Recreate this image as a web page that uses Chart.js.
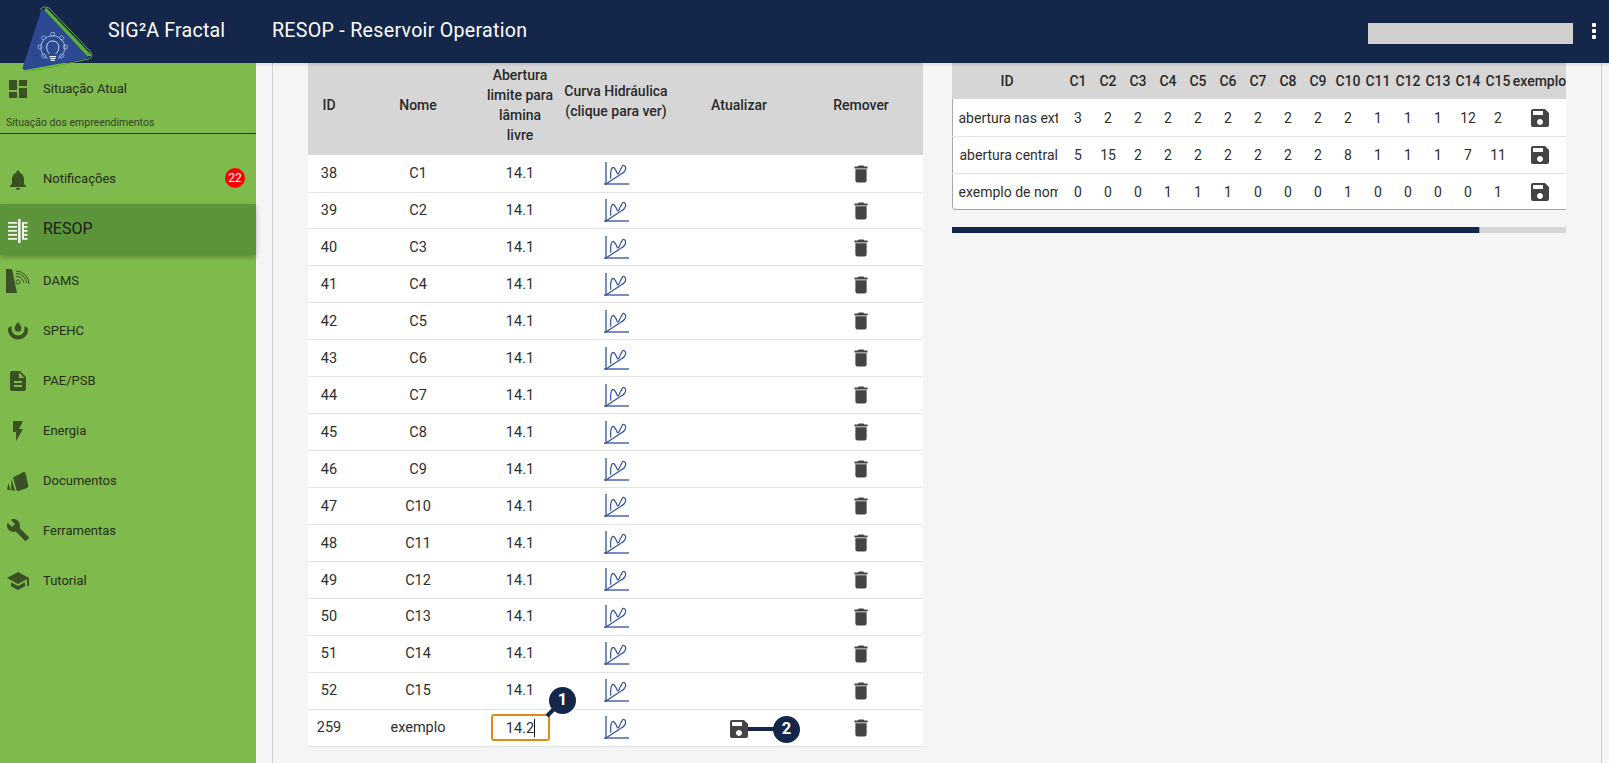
<!DOCTYPE html>
<html lang="pt">
<head>
<meta charset="utf-8">
<title>RESOP - Reservoir Operation</title>
<script src="https://cdn.jsdelivr.net/npm/chart.js@4/dist/chart.umd.min.js"></script>
<style>
html,body{margin:0;padding:0;width:1609px;height:763px;overflow:hidden;background:#f5f5f5;font-family:Roboto,sans-serif;color:#2e2e2e}
#stage{position:relative;width:1609px;height:763px;overflow:hidden}
.box{position:absolute}
.t{position:absolute;white-space:nowrap;line-height:1}
.c{transform:translate(-50%,-50%);text-align:center}
.l{transform:translateY(-50%)}
.head{font-weight:500;color:#2a2a2a}
svg.i{position:absolute;transform:translate(-50%,-50%)}
canvas{display:block}
.cv{position:absolute}
</style>
</head>
<body>
<div id="stage"></div>
<script>
// ---- content ----
const rowIds = ["38","39","40","41","42","43","44","45","46","47","48","49","50","51","52","259"];
const rowNames = ["C1","C2","C3","C4","C5","C6","C7","C8","C9","C10","C11","C12","C13","C14","C15","exemplo"];
const rowLimits = ["14.1","14.1","14.1","14.1","14.1","14.1","14.1","14.1","14.1","14.1","14.1","14.1","14.1","14.1","14.1","14.2"];
const matrixHeaders = ["C1","C2","C3","C4","C5","C6","C7","C8","C9","C10","C11","C12","C13","C14","C15"];
const matrixLabels = ["abertura nas ext","abertura central","exemplo de nom"];
const aberturaExt = [3,2,2,2,2,2,2,2,2,2,1,1,1,12,2];
const aberturaCentral = [5,15,2,2,2,2,2,2,2,8,1,1,1,7,11];
const exemploNome = [0,0,0,1,1,1,0,0,0,1,0,0,0,0,1];
// icon curve series
const curveX = [8.7,9,11.3,14,16,18.7,21.3,23.7,22,18];
const curveY = [9.3,17.3,20.7,17.3,14,18.7,22.7,20,16,13.3];
const diagonalX = [4,18];
const diagonalY = [4,13.3];
const axisVX = [4,4];
const axisVY = [3,26];
const axisHX = [2,27];
const axisHY = [4,4];
// scroll bar share
const scrollShown = [527];
const scrollHidden = [87];

// ---- helpers ----
const stage = document.getElementById('stage');
function box(x,y,w,h,css){const d=document.createElement('div');d.className='box';d.style.cssText=`left:${x}px;top:${y}px;width:${w}px;height:${h}px;${css||''}`;stage.appendChild(d);return d;}
function text(s,x,y,size,opt){opt=opt||{};const d=document.createElement('div');d.className='t '+(opt.left?'l':'c')+(opt.head?' head':'');d.textContent=s;
 d.style.cssText=`left:${x}px;top:${y}px;font-size:${size}px;${opt.css||''}`;(opt.parent||stage).appendChild(d);return d;}
function icon(path,x,y,size,color,vb){const n='http://www.w3.org/2000/svg';const s=document.createElementNS(n,'svg');s.setAttribute('class','i');s.setAttribute('viewBox',vb||'0 0 24 24');
 s.setAttribute('width',size);s.setAttribute('height',size);s.style.left=x+'px';s.style.top=y+'px';s.innerHTML=`<path d="${path}" fill="${color}"/>`;stage.appendChild(s);return s;}

const P = {
 dash:"M3 13h8V3H3v10zm0 8h8v-6H3v6zm10 0h8V11h-8v10zm0-18v6h8V3h-8z",
 bell:"M12 22c1.1 0 2-.9 2-2h-4c0 1.1.89 2 2 2zm6-6v-5c0-3.07-1.64-5.64-4.5-6.32V4c0-.83-.67-1.5-1.5-1.5s-1.5.67-1.5 1.5v.68C7.63 5.36 6 7.92 6 11v5l-2 2v1h16v-1l-2-2z",
 trash:"M6 19c0 1.1.9 2 2 2h8c1.1 0 2-.9 2-2V7H6v12zM19 4h-3.5l-1-1h-5l-1 1H5v2h14V4z",
 save:"M17 3H5c-1.11 0-2 .9-2 2v14c0 1.1.89 2 2 2h14c1.1 0 2-.9 2-2V7l-4-4zm-5 16c-1.66 0-3-1.34-3-3s1.34-3 3-3 3 1.34 3 3-1.34 3-3 3zm3-10H5V5h10v4z",
 doc:"M14 2H6c-1.1 0-1.99.9-1.99 2L4 20c0 1.1.89 2 1.99 2H18c1.1 0 2-.9 2-2V8l-6-6zm2 16H8v-2h8v2zm0-4H8v-2h8v2zm-3-5V3.5L18.5 9H13z",
 flash:"M7 2v11h3v9l7-12h-4l4-8z",
 wrench:"M22.7 19l-9.1-9.1c.9-2.3.4-5-1.5-6.9-2-2-5-2.4-7.4-1.3L9 6 6 9 1.6 4.7C.4 7.1.9 10.1 2.9 12.1c1.9 1.9 4.6 2.4 6.9 1.5l9.1 9.1c.4.4 1 .4 1.4 0l2.3-2.3c.5-.4.5-1.1.1-1.4z",
 school:"M5 13.18v4L12 21l7-3.82v-4L12 17l-7-3.82zM12 3L1 9l11 6 9-4.91V17h2V9L12 3z",
 spehc:"M12 3c2 2.6 3.4 4.4 3.4 6.2a3.4 3.4 0 0 1-6.8 0C8.6 7.4 10 5.6 12 3zM2.5 8.5l3.4-1.2C5.6 8 5.5 9 5.5 10c0 3.6 2.9 6.5 6.5 6.5s6.5-2.9 6.5-6.5c0-1 -.1-2-.4-2.7l3.4 1.2c.3.8.5 1.6.5 2.5 0 5.3-4.5 9.5-10 9.5S2 15.8 2 10.5c0-.7.2-1.4.5-2z",
 resop:"M1 3h9v1.7H1zM1 7h9v1.7H1zM1 11h9v1.7H1zM1 15h9v1.7H1zM1 19h9v1.7H1zM11 0h2.6v24H11zM15 3h5.5v1.7H15zM15 7h5.5v1.7H15zM15 11h5.5v1.7H15zM15 15h5.5v1.7H15zM15 19h5.5v1.7H15zM15 4h2v16h-2z"
};

// ---- shell ----
const NAVY="#14264a", ICON="#3a5124", NAVTXT="#1f2d14";
box(272,63,1,700,'background:#cfcfcf');
box(1601,63,1,700,'background:#cfcfcf');

// ---- left table ----
const LX=308, LW=615, HTOP=63, HBOT=155, RH=36.94;
const colId=329,colNome=418,colAb=520,colCurva=616,colAt=739,colRem=861;
box(LX,HTOP,LW,HBOT-HTOP,'background:#d6d6d6');
box(LX,HBOT,LW,RH*16,'background:#fff');
const hf=14;
text("ID",colId,105,hf,{head:1});
text("Nome",colNome,105,hf,{head:1});
["Abertura","limite para","lâmina","livre"].forEach((s,i)=>text(s,colAb,75+i*20,hf,{head:1}));
["Curva Hidráulica","(clique para ver)"].forEach((s,i)=>text(s,colCurva,90.5+i*20,hf,{head:1}));
text("Atualizar",colAt,105,hf,{head:1});
text("Remover",colRem,105,hf,{head:1});

const iconCanvases=[];
rowIds.forEach((id,i)=>{
  const top=HBOT+RH*i, cy=top+19.2;
  box(LX,Math.round(top+RH-0.4),LW,1,'background:#e3e3e3');
  text(id,colId,cy,14.5);
  text(rowNames[i],colNome,cy,14.5);
  if(i<rowIds.length-1) text(rowLimits[i],colAb,cy,14.5);
  icon(P.trash,colRem,cy-0.5,22.5,'#444');
  const cv=document.createElement('canvas');cv.width=28;cv.height=28;cv.className='cv';
  cv.style.cssText=`position:absolute;left:602px;top:${Math.round(top+5)}px;width:28px;height:28px`;
  stage.appendChild(cv);iconCanvases.push(cv);
});

// input + callouts
box(491,714,59,27,'box-sizing:border-box;border:2px solid #e08a1e;border-radius:3px;background:#fff');
text(rowLimits[15],520,728.5,14.5);
box(534,719,1,18,'background:#111');
icon(P.save,739,729,24,'#444');
box(748,727,26,4,'background:'+NAVY);
const ln=document.createElementNS('http://www.w3.org/2000/svg','svg');
ln.setAttribute('width','40');ln.setAttribute('height','40');ln.style.cssText='position:absolute;left:535px;top:690px';
ln.innerHTML=`<line x1="12" y1="26" x2="26" y2="12" stroke="${NAVY}" stroke-width="4"/>`;stage.appendChild(ln);
[[562.5,700,"1"],[786.5,729,"2"]].forEach(b=>{
  box(b[0]-13.5,b[1]-13.5,27,27,`background:${NAVY};border-radius:50%`);
  text(b[2],b[0],b[1],16.5,{css:'color:#fff;font-weight:700'});
});

// ---- right table ----
const RX=952,RW=614;
box(RX,63,RW,36,'background:#d6d6d6');
box(RX,99,RW,111,'background:#fff;box-sizing:border-box;border-left:1px solid #a8a8a8;border-bottom:1px solid #a0a0a0;border-bottom-left-radius:4px');
box(RX,136,RW,1,'background:#e3e3e3');
box(RX,173,RW,1,'background:#e3e3e3');
const colX=k=>1078+30*k;
text("ID",1007,81,14,{head:1});
matrixHeaders.forEach((h,k)=>text(h,colX(k),81,14,{head:1}));
text("exemplo",1539.5,81,14,{head:1});
[aberturaExt,aberturaCentral,exemploNome].forEach((vals,r)=>{
  const cy=[118,155,192][r];
  const clip=box(958,cy-10,100,20,'overflow:hidden');
  text(matrixLabels[r],r==1?1.5:0.5,10,14,{left:1,parent:clip});
  vals.forEach((v,k)=>text(String(v),colX(k),cy,14));
  icon(P.save,1539.5,cy,24,'#444');
});

// scroll bar drawn by chart
const sc=document.createElement('canvas');sc.style.cssText='position:absolute;left:952px;top:227px;width:614px;height:6px';
sc.width=614;sc.height=6;stage.appendChild(sc);

// ---- header & sidebar (over content) ----
box(0,63,1609,4,'background:linear-gradient(rgba(0,0,0,.10),rgba(0,0,0,0))');
box(0,0,1609,63,'background:'+NAVY);
box(0,63,256,700,'background:#7fba4c');
box(0,204,256,51,'background:#5c9439;box-shadow:0 2px 5px rgba(0,0,0,.28)');
box(0,133,256,1,'background:#1c3a22');

// logo
const logo=document.createElementNS('http://www.w3.org/2000/svg','svg');
logo.setAttribute('width','110');logo.setAttribute('height','80');logo.style.cssText='position:absolute;left:0;top:0';
let gearTeeth='';for(let a=0;a<8;a++){if(a==4)continue;gearTeeth+=`<rect x="50.7" y="32.6" width="4" height="3.4" rx=".6" fill="#2b4a92" stroke="#9fb1d8" stroke-width=".9" transform="rotate(${a*45} 52.7 47)"/>`;}
logo.innerHTML=`<path d="M40 10 Q43 5 49 8 L90 51 Q94 57 89 59 L31 71" fill="none" stroke="#5cae34" stroke-width="1"/>
<path d="M46 9 L90 55 L32 68 Z" fill="#5cae34" stroke="#5cae34" stroke-width="2" stroke-linejoin="round"/>
<path d="M43 11.5 L85.5 57 L24.5 68 Z" fill="#2b4a92" stroke="#2b4a92" stroke-width="4" stroke-linejoin="round"/>
<path d="M24 71 L60 66" stroke="#5cae34" stroke-width="1" fill="none" opacity=".6"/>
${gearTeeth}
<path d="M47.5 58.5 A12 12 0 1 1 58 58.5" fill="none" stroke="#9fb1d8" stroke-width="1"/>
<path d="M49.8 54 C45 50 45.5 41 52.7 41 C60 41 60.5 50 55.6 54" fill="none" stroke="#cdd7ec" stroke-width="1"/>
<rect x="49.5" y="56" width="6.6" height="1.2" fill="#eef2fa"/><rect x="50" y="58" width="5.6" height="1.1" fill="#eef2fa"/><rect x="50.7" y="59.8" width="4.2" height="1.1" fill="#eef2fa"/>`;
stage.appendChild(logo);

text("SIG²A Fractal",108,31,19.6,{left:1,css:'color:#fff;letter-spacing:.2px'});
text("RESOP - Reservoir Operation",272,31,19.6,{left:1,css:'color:#fff;letter-spacing:.3px'});
box(1368,23,205,21,'background:#d0d0d0');
[25,31,37].forEach(y=>box(1592,y-2,4,4,'background:#fff;border-radius:1px'));

const navItems=[["Situação Atual",88,13],["Notificações",178,13],["DAMS",279.5,13],["SPEHC",329.5,13],["PAE/PSB",379.5,13],["Energia",429.5,13],["Documentos",479.5,13],["Ferramentas",529.5,13],["Tutorial",579.5,13]];
navItems.forEach(n=>text(n[0],43,n[1],n[2],{left:1,css:'color:'+NAVTXT}));
text("RESOP",43,228.5,16,{left:1,css:'color:#14200c'});
text("Situação dos empreendimentos",6,122.5,10.5,{left:1,css:'color:#33451f'});
box(225,168,20,20,'background:#fb0007;border-radius:50%');
text("22",235,178,12,{css:'color:#fff'});
icon(P.dash,18,89,24,ICON);
icon(P.bell,18,179.5,24,ICON);
icon(P.resop,18.5,231,24,'#f1f4ec');
icon(P.spehc,18,331,24,ICON);
icon(P.doc,18,381,24,ICON);
icon(P.flash,18,431,24,ICON);
icon(P.wrench,18,530,24,ICON);
icon(P.school,18,581,24,ICON);
// page-positioned custom icons: DAMS and Documentos
const custom=document.createElementNS('http://www.w3.org/2000/svg','svg');
custom.setAttribute('width','40');custom.setAttribute('height','240');custom.style.cssText='position:absolute;left:0;top:260px';
custom.innerHTML=`<path d="M6 9H12L17 33H6Z" fill="${ICON}"/><circle cx="18" cy="22" r="2.1" fill="none" stroke="${ICON}" stroke-width="1"/>
<path d="M16 16.5a6.5 6.5 0 0 1 7.5 6M16 13.5a10 10 0 0 1 10.5 9.5M16 11a13 13 0 0 1 13 13" fill="none" stroke="${ICON}" stroke-width="1"/>
<path d="M13 217.5L23.5 212Q25 211.5 25.5 213L28.3 226Q28.5 227.5 27 228L18.5 231Q17 231.3 16.5 230Z" fill="${ICON}"/>
<path d="M11.5 218.5L15 231L11 230Z M8.5 223L10.5 230.5L7 229.5Z" fill="${ICON}"/>`;
stage.appendChild(custom);

// ---- Chart.js ----
const pts=(xs,ys)=>xs.map((x,i)=>({x,y:ys[i]}));
const LINE="#32509c";
iconCanvases.forEach(cv=>{
  new Chart(cv,{type:'line',
    data:{datasets:[
      {data:pts(axisVX,axisVY),borderColor:LINE,borderWidth:1.3,pointRadius:0},
      {data:pts(axisHX,axisHY),borderColor:LINE,borderWidth:1.3,pointRadius:0},
      {data:pts(diagonalX,diagonalY),borderColor:LINE,borderWidth:1.2,pointRadius:0},
      {data:pts(curveX,curveY),borderColor:LINE,borderWidth:1.2,pointRadius:0,tension:.4}
    ]},
    options:{responsive:false,animation:false,events:[],devicePixelRatio:1,
      layout:{padding:0},
      plugins:{legend:{display:false},tooltip:{enabled:false},title:{display:false}},
      scales:{x:{type:'linear',min:0,max:28,display:false},y:{type:'linear',min:0,max:28,display:false}}}
  });
});
new Chart(sc,{type:'bar',
  data:{labels:[''],datasets:[
    {data:scrollShown,backgroundColor:NAVY,borderRadius:3,borderSkipped:false,barPercentage:1,categoryPercentage:1,stack:'s'},
    {data:scrollHidden,backgroundColor:'#d6d6d6',barPercentage:1,categoryPercentage:1,stack:'s'}
  ]},
  options:{indexAxis:'y',responsive:false,animation:false,events:[],devicePixelRatio:1,layout:{padding:0},
    plugins:{legend:{display:false},tooltip:{enabled:false}},
    scales:{x:{stacked:true,min:0,max:614,display:false},y:{stacked:true,display:false}}}
});
</script>
</body>
</html>
